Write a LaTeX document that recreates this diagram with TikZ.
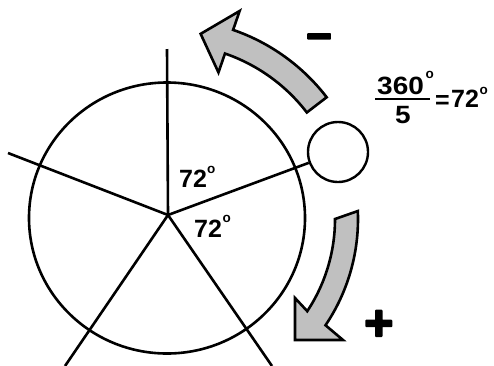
\documentclass[tikz,border=0pt]{standalone}
\usepackage{fontspec}
\setmainfont{Liberation Sans}
\newfontfamily\signfont{Liberation Sans}[FakeBold=4]
\usetikzlibrary{calc}
\definecolor{arrowgray}{RGB}{192,192,192}
\begin{document}
\begin{tikzpicture}[x=1pt,y=-1pt,line join=round,
  ln/.style={line width=2.6pt},
  arr/.style={fill=arrowgray,draw=black,line width=2.6pt,line join=miter},
  num/.style={font=\bfseries\fontsize{25}{25}\selectfont,inner sep=0pt,anchor=base west},
  supo/.style={font=\bfseries\fontsize{13.5}{13.5}\selectfont,inner sep=0pt,anchor=base west},
  sign/.style={inner sep=0pt,anchor=base west}]
\useasboundingbox (0,0) rectangle (494,365);
\coordinate (H) at (168,215);
\coordinate (O) at (168,219);
% wheel
\draw[ln] (167,218) ellipse [x radius=138, y radius=135.5];
\node[circle,draw,line width=2.4pt,minimum size=60pt,inner sep=0pt] (sc) at (338,152) {};
\coordinate (ptop) at (167,49);
\coordinate (pleft) at (8,153);
\coordinate (pbl) at (65,366);
\coordinate (pbr) at (272,366);
\draw[ln] (H) -- (ptop);
\draw[ln] (H) -- (pleft);
\draw[ln] (H) -- (pbl);
\draw[ln] (H) -- (pbr);
\draw[ln] (H) -- (sc);
% upper arrow
\draw[arr] ($(O)+(-37.5:175)$) arc[start angle=-37.5,end angle=-71,radius=175]
  -- ($(O)+(-71:155)$) -- ($(O)+(-80:188)$) -- ($(O)+(-71:220)$)
  -- ($(O)+(-71:200)$) arc[start angle=-71,end angle=-37.5,radius=200] -- cycle;
% lower arrow
\draw[arr] ($(O)+(-2.4:190)$) -- ($(O)+(0:167)$) arc[start angle=0,end angle=33.5,radius=167]
  -- (295,298) -- (295,340) -- (343,340)
  -- ($(O)+(34:190)$) arc[start angle=34,end angle=-2.4,radius=190] -- cycle;
% signs
\node[sign,font=\signfont\bfseries\fontsize{44}{44}\selectfont] (minus) at (306,51) {−};
\node[sign,font=\signfont\bfseries\fontsize{50}{50}\selectfont] (plus) at (364,340) {+};
% angle labels
\node[num] (a1) at (179,187) {72};
\node[supo] (a1o) at (207,173) {o};
\node[num] (a2) at (194,237) {72};
\node[supo] (a2o) at (222.5,222) {o};
% formula
\node[num] (n360) at (377,94) {\scalebox{1.12}[1]{360}};
\node[supo] (n360o) at (425.5,78) {o};
\coordinate (fbl) at (375,99);
\coordinate (fbr) at (430,99);
\draw[line width=2.5pt] (fbl) -- (fbr);
\node[num] (n5) at (395,123) {\scalebox{1.12}[1]{5}};
\node[num] (eq) at (435,108) {=};
\node[num] (r72) at (451,107) {72};
\node[supo] (r72o) at (479.5,94) {o};
\end{tikzpicture}
\end{document}
